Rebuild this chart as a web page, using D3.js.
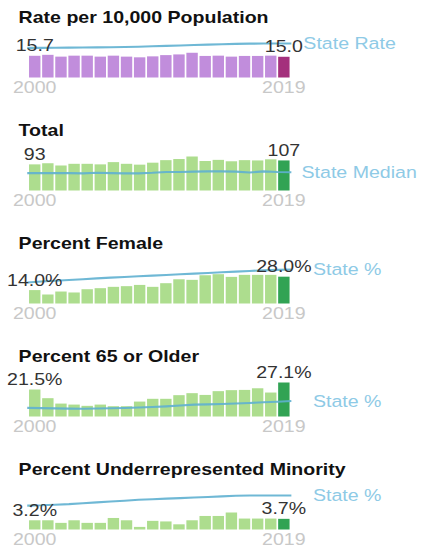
<!DOCTYPE html>
<html>
<head>
<meta charset="utf-8">
<script src="https://cdn.jsdelivr.net/npm/d3@7"></script>
<style>
  html, body { margin: 0; padding: 0; background: #fff; }
  svg { display: block; }
  text { font-family: "Liberation Sans", Arial, sans-serif; }
</style>
</head>
<body>
<svg id="chart"></svg>
<script>
// ---- Data ----
const years = [2000, 2001, 2002, 2003, 2004, 2005, 2006, 2007, 2008, 2009,
               2010, 2011, 2012, 2013, 2014, 2015, 2016, 2017, 2018, 2019];

const rateValues = [15.7, 16.4, 15.1, 15.8, 15.8, 15.1, 15.8, 15.1, 14.6, 15.3,
                    16.2, 16.7, 17.9, 15.6, 15.8, 15.1, 15.6, 15.6, 15.8, 15.0];
const rateState  = [21.4, 21.4, 21.5, 21.6, 21.7, 21.8, 21.9, 22.1, 22.3, 22.6,
                    22.9, 23.2, 23.5, 23.8, 24.1, 24.3, 24.5, 24.6, 24.6, 24.6];

const totalValues = [93, 97, 89, 95, 95, 93, 101, 95, 92, 99,
                     108, 112, 121, 105, 109, 104, 108, 107, 111, 107];
const totalStateMedian = [62, 62, 62, 62, 61, 63, 62, 61, 61, 63,
                          66, 66, 67, 68, 68, 67, 64, 68, 66, 65];

const femaleValues = [14.0, 9.4, 12.5, 11.5, 14.9, 16.0, 17.4, 18.1, 19.4, 17.4,
                      21.2, 25.3, 24.7, 29.5, 30.6, 27.8, 29.9, 29.9, 29.9, 28.0];
const femaleState  = [22.0, 22.9, 23.8, 24.6, 25.4, 26.2, 27.0, 27.7, 28.4, 29.1,
                      29.8, 30.5, 31.2, 31.9, 32.6, 33.3, 34.0, 34.6, 35.1, 35.5];

const olderValues = [21.5, 14.6, 10.3, 9.5, 8.5, 9.5, 8.2, 8.2, 11.9, 14.1,
                     14.1, 17.0, 18.6, 17.2, 20.2, 21.0, 21.2, 22.5, 19.1, 27.1];
const olderState  = [6.9, 6.7, 6.5, 6.3, 6.2, 6.4, 6.6, 6.8, 7.2, 7.6,
                     8.1, 8.8, 9.5, 9.7, 10.0, 10.4, 10.8, 11.3, 11.8, 12.3];

const minorityValues = [3.2, 3.2, 2.3, 3.2, 2.3, 2.3, 4.0, 3.2, 0.9, 3.0,
                        2.8, 1.8, 3.2, 4.7, 4.7, 5.9, 3.8, 3.8, 3.8, 3.7];
const minorityState  = [8.3, 8.4, 8.6, 8.8, 9.1, 9.4, 9.7, 10.0, 10.3, 10.5,
                        10.7, 10.9, 11.1, 11.3, 11.5, 11.7, 11.8, 11.8, 11.8, 11.8];

const panelTitles = ["Rate per 10,000 Population", "Total", "Percent Female",
                     "Percent 65 or Older", "Percent Underrepresented Minority"];
const stateLabels = ["State Rate", "State Median", "State %", "State %", "State %"];
const valueSuffix = ["", "", "%", "%", "%"];
const valueDecimals = [1, 0, 1, 1, 1];

// ---- Layout / style ----
const W = 360, H = 550;          // internal drawing units (stretched horizontally to 432px)
const panelStep = 113;
const titleY = 23.5, barBottom = 77.5, plotH = 34, yearY = 93.5;
const bandLeft = 24.2, bandRight = 241.3;
const stateLabelGap = [11.5, 10, 19.5, 19.5, 19.5];

const themes = [
  { bar: "#c18ddc", last: "#a4307c" },
  { bar: "#addd8e", last: "#31a354" },
  { bar: "#addd8e", last: "#31a354" },
  { bar: "#addd8e", last: "#31a354" },
  { bar: "#addd8e", last: "#31a354" }
];
const lineColor = "#5fb0d0";
const stateColor = "#8ecae6";

const panels = [
  { values: rateValues, state: rateState },
  { values: totalValues, state: totalStateMedian },
  { values: femaleValues, state: femaleState },
  { values: olderValues, state: olderState },
  { values: minorityValues, state: minorityState }
];

const svg = d3.select("#chart")
  .attr("width", 432).attr("height", 550)
  .attr("viewBox", `0 0 ${W} ${H}`)
  .attr("preserveAspectRatio", "none");

const x = d3.scaleBand().domain(years).range([bandLeft, bandRight]).paddingInner(0.13);
const xl = d3.scalePoint().domain(years).range([bandLeft - 1.5, bandRight + 1.5]);

panels.forEach((p, i) => {
  const g = svg.append("g").attr("transform", `translate(0,${i * panelStep})`);
  const maxV = d3.max([...p.values, ...p.state]);
  const y = d3.scaleLinear().domain([0, maxV]).range([barBottom, barBottom - plotH]);
  const fmt = v => v.toFixed(valueDecimals[i]) + valueSuffix[i];

  g.append("text").attr("x", 15.5).attr("y", titleY)
    .attr("font-size", 16.3).attr("font-weight", "bold").attr("fill", "#111")
    .text(panelTitles[i]);

  g.selectAll("rect.bar").data(years).join("rect")
    .attr("class", "bar")
    .attr("x", d => x(d))
    .attr("width", x.bandwidth())
    .attr("y", (d, j) => y(p.values[j]))
    .attr("height", (d, j) => barBottom - y(p.values[j]))
    .attr("fill", (d, j) => j === years.length - 1 ? themes[i].last : themes[i].bar);

  const line = d3.line().x((d, j) => xl(years[j])).y(d => y(d));
  g.append("path").datum(p.state)
    .attr("d", line)
    .attr("fill", "none")
    .attr("stroke", lineColor)
    .attr("stroke-width", 2.1)
    .attr("stroke-opacity", 0.9);

  const first = years[0], last = years[years.length - 1];
  const cx = d => x(d) + x.bandwidth() / 2;

  g.append("text").attr("x", cx(first)).attr("y", y(p.values[0]) - 4.5)
    .attr("text-anchor", "middle").attr("font-size", 16.3).attr("fill", "#333")
    .text(fmt(p.values[0]));
  g.append("text").attr("x", cx(last)).attr("y", y(p.values[p.values.length - 1]) - 4.5)
    .attr("text-anchor", "middle").attr("font-size", 16.3).attr("fill", "#333")
    .text(fmt(p.values[p.values.length - 1]));

  g.append("text")
    .attr("x", bandRight + stateLabelGap[i])
    .attr("y", y(p.state[p.state.length - 1]) + 5.5)
    .attr("font-size", 16.3).attr("fill", stateColor)
    .text(stateLabels[i]);

  g.append("text").attr("x", cx(first)).attr("y", yearY)
    .attr("text-anchor", "middle").attr("font-size", 16.3).attr("fill", "#c8c8c8")
    .text(first);
  g.append("text").attr("x", cx(last)).attr("y", yearY)
    .attr("text-anchor", "middle").attr("font-size", 16.3).attr("fill", "#c8c8c8")
    .text(last);
});
</script>
</body>
</html>
